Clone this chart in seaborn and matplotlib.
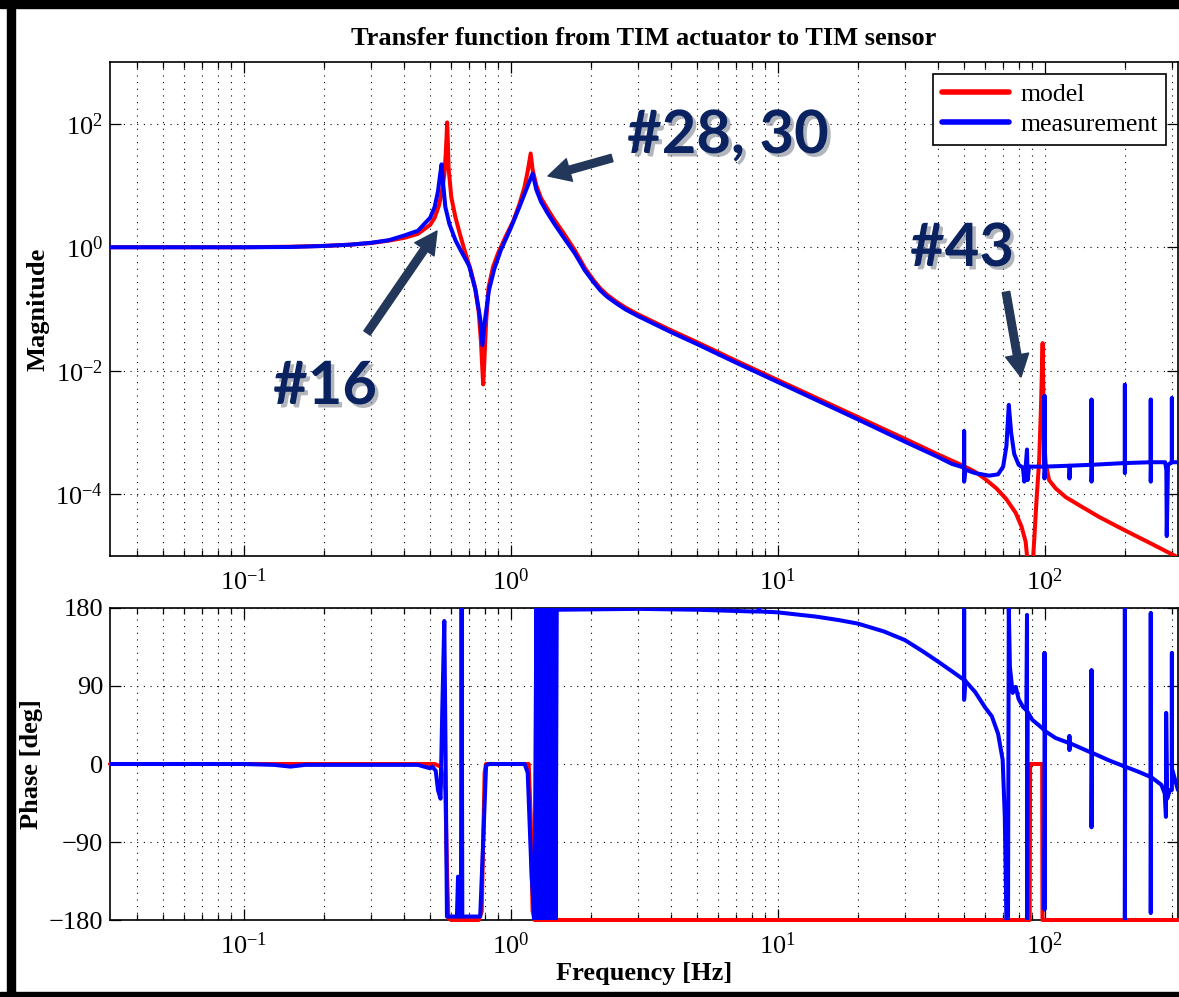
import numpy as np
import pandas as pd
import matplotlib
matplotlib.use("Agg")
import matplotlib.pyplot as plt
import matplotlib.patheffects as pe
from matplotlib.ticker import LogLocator, FixedLocator, NullFormatter, NullLocator, LogFormatterSciNotation
import seaborn as sns

# ---- data (frequency in Hz) ----
model_mag_f = [0.0316, 0.1, 0.15, 0.2, 0.25, 0.3, 0.35, 0.4, 0.45, 0.5, 0.52, 0.54, 0.555, 0.565,
               0.572, 0.576, 0.579, 0.583, 0.586, 0.6, 0.622, 0.65, 0.678, 0.71, 0.736, 0.76, 0.775,
               0.785, 0.79, 0.795, 0.81, 0.828, 0.86, 0.898, 0.96, 1.026, 1.08, 1.127, 1.16,
               1.19, 1.21, 1.25, 1.3, 1.37, 1.45, 1.58, 1.74, 1.9, 2.05, 2.17, 2.3, 2.5, 2.7, 3.0,
               4.0, 5.0, 7.0, 10.0, 20.0, 30.0, 40.0, 50.0, 55.0, 59.6, 66.0, 72.0, 78.0, 82.0,
               85.0, 87.0, 88.5, 91.0, 93.4, 95.5, 97.0, 98.4, 99.2, 100.0, 101.0, 104.0, 110.0,
               120.0, 136.0, 160.0, 200.0, 250.0, 316.0]
model_mag = [1.0, 1.0, 1.02, 1.05, 1.1, 1.17, 1.28, 1.42, 1.65, 2.3, 3.0, 4.8, 8.5, 15.0,
             32.0, 60.0, 105.0, 45.0, 19.5, 6.5, 3.05, 1.5, 0.8, 0.42, 0.226, 0.09, 0.03,
             0.01, 0.006, 0.01, 0.06, 0.226, 0.48, 0.8, 1.5, 2.7, 5.0, 9.3, 17.0,
             33.0, 18.0, 10.0, 6.3, 4.3, 2.9, 1.7, 0.9, 0.46, 0.29, 0.215, 0.17, 0.13, 0.105, 0.082,
             0.045, 0.029, 0.0145, 0.0071, 0.00178, 7.9e-4, 4.4e-4, 2.84e-4, 2.3e-4, 1.8e-4, 1.25e-4, 8.3e-5, 5e-5, 3e-5,
             1.7e-5, 6e-6, 1e-6, 1.2e-5, 8.3e-5, 3.5e-4, 2.5e-3, 0.028, 2.0e-3, 6e-4, 3.2e-4, 1.7e-4, 1.25e-4,
             9e-5, 6.5e-5, 4.3e-5, 2.6e-5, 1.6e-5, 9.5e-6]

meas_mag_f = [0.0316, 0.1, 0.15, 0.2, 0.25, 0.3, 0.35, 0.4, 0.45, 0.5, 0.52, 0.535, 0.545, 0.552,
              0.558, 0.57, 0.59, 0.622, 0.65, 0.7, 0.74, 0.77, 0.785, 0.8, 0.83, 0.87, 0.92, 1.0,
              1.08, 1.15, 1.21, 1.25, 1.3, 1.37, 1.45, 1.58, 1.74, 1.9, 2.05, 2.17, 2.3, 2.5, 2.7,
              3.0, 4.0, 5.0, 7.0, 10.0, 20.0, 30.0, 40.0, 45.0, 50.0, 50.0, 50.0, 50.5, 55.0, 62.0,
              67.0, 70.0, 72.0, 73.5, 75.0, 77.0, 80.0, 83.0, 84.0, 85.0, 86.0, 86.5, 87.5, 95.0,
              100.0, 100.0, 100.0, 100.5, 124.0, 124.0, 124.5, 150.0, 150.0, 150.0, 150.5, 200.0,
              200.0, 200.0, 200.5, 250.0, 250.0, 250.0, 250.5, 283.0, 286.0, 287.0, 290.0, 300.0,
              300.0, 300.0, 316.0]
meas_mag = [1.0, 1.0, 1.01, 1.05, 1.1, 1.18, 1.3, 1.55, 1.85, 3.0, 4.5, 8.0, 15.0, 22.0,
            12.0, 4.5, 2.4, 1.3, 0.9, 0.5, 0.2, 0.07, 0.026, 0.06, 0.2, 0.45, 0.9, 2.0,
            4.5, 9.0, 15.6, 8.5, 5.5, 3.7, 2.5, 1.45, 0.8, 0.42, 0.27, 0.2, 0.158, 0.122, 0.098,
            0.077, 0.042, 0.027, 0.0135, 0.0066, 0.00163, 7.1e-4, 4.0e-4, 3.1e-4, 2.7e-4, 1.05e-3, 1.6e-4, 2.5e-4, 2.2e-4, 2.0e-4,
            2.1e-4, 2.8e-4, 6e-4, 2.8e-3, 1.0e-3, 4.5e-4, 3.0e-4, 2.7e-4, 1.6e-4, 2.8e-4, 5.3e-4, 1.7e-4, 2.8e-4, 2.8e-4,
            2.8e-4, 3.9e-3, 1.8e-4, 2.8e-4, 2.9e-4, 1.8e-4, 2.9e-4, 3.0e-4, 3.4e-3, 1.6e-4, 3.0e-4, 3.2e-4,
            5.9e-3, 2.2e-4, 3.2e-4, 3.3e-4, 3.4e-3, 1.6e-4, 3.3e-4, 3.3e-4, 2.5e-4, 2.1e-5, 3.0e-4, 3.3e-4,
            3.6e-3, 3.3e-4, 3.3e-4]

model_ph_f = [0.0316, 0.52, 0.548, 0.57, 0.578, 0.585, 0.6, 0.76, 0.78, 0.79, 0.8, 0.81,
              1.17, 1.19, 1.21, 1.23, 88.0, 88.3, 98.0, 98.3, 316.0]
model_ph = [0, 0, -3, -30, -120, -178, -180, -180, -170, -90, -10, 0,
            0, -60, -170, -180, -180, 0, 0, -180, -180]

meas_ph_f = [0.0316, 0.1, 0.13, 0.15, 0.17, 0.3, 0.45, 0.5, 0.51, 0.525, 0.535, 0.547, 0.555,
             0.565, 0.571, 0.578, 0.63, 0.636, 0.64, 0.652, 0.656, 0.66, 0.77, 0.79, 0.81, 0.83,
             1.13, 1.16, 1.2, 1.23,
             1.25, 1.265, 1.28, 1.295, 1.31, 1.325, 1.34, 1.355, 1.37, 1.385, 1.40, 1.415,
             1.43, 1.445, 1.46, 1.475, 1.49, 1.5,
             3.0, 5.0, 8.0, 8.5, 8.5, 8.6, 10.0, 14.0, 17.0, 20.0, 25.0, 30.0, 35.0, 40.0, 45.0,
             50.0, 50.0, 50.0, 50.5, 55.0, 60.0, 63.5, 67.0, 69.7, 71.0, 72.0, 73.0, 73.5,
             74.2, 76.0, 78.0, 80.0, 83.0, 85.5, 86.0, 86.0, 86.5, 90.0, 95.0, 100.0, 100.0,
             100.0, 100.5, 110.0, 124.0, 124.0, 124.0, 124.5, 150.0, 150.0, 150.0, 150.5, 175.0,
             200.0, 200.0, 200.0, 200.5, 225.0, 250.0, 250.0, 250.0, 250.5, 274.0, 282.0, 285.0,
             285.5, 288.0, 295.0, 300.0, 300.0, 300.0, 316.0]
meas_ph = [0, 0, -1, -3, -1, -1, -1, -5, -3, -8, -30, -40, 60,
           165, 20, -176, -176, -130, -176, -176, 185, -176, -176, -90, -2, 0,
           0, -10, -130, -180,
           180, -180, 180, -180, 180, -180, 180, -180, 180, -180, 180, -180,
           180, -180, 180, -180, 180, 178,
           179, 178, 176, 176, 180, 176, 175, 170, 166, 162, 153, 143, 130, 118, 107,
           97, 178, 74, 96, 83, 65, 55, 35, 5, -60, -180, -180, 180,
           112, 82, 89, 75, 66, 62, 172, -180, 60, 51, 45, 39, 128,
           -168, 38, 30, 24, 32, 16, 24, 13, 108, -73, 13, 4,
           -3, 180, -180, -3, -9, -15, 174, -172, -15, -24, -34, -61,
           59, -40, -30, -30, 128, -5, -30]

legend_labels = ["model", "measurement"]
mag_ticks = [1e-4, 1e-2, 1e0, 1e2]
phase_ticks = [-180, -90, 0, 90, 180]

sns.set_theme(style="ticks")
plt.rcParams['font.family'] = ['Liberation Serif', 'DejaVu Serif']
plt.rcParams['mathtext.fontset'] = 'custom'
plt.rcParams['mathtext.rm'] = 'Liberation Serif'
plt.rcParams['mathtext.it'] = 'Liberation Serif:italic'
plt.rcParams['mathtext.bf'] = 'Liberation Serif:bold'
for key in ['text.color', 'axes.labelcolor', 'xtick.color', 'ytick.color', 'axes.edgecolor']:
    plt.rcParams[key] = 'black'

W, H = 1179, 997
fig = plt.figure(figsize=(W / 100, H / 100), dpi=100)
ax_mag = fig.add_axes([110 / W, 1 - 556 / H, 1068 / W, 494 / H])
ax_ph = fig.add_axes([110 / W, 1 - 920 / H, 1068 / W, 312 / H])

RED = '#ff0000'
BLUE = '#0000ff'
LW = 2.9

for ax in (ax_mag, ax_ph):
    ax.set_xscale('log')
ax_mag.set_yscale('log')

df_mm = pd.DataFrame({'f': model_mag_f, 'v': model_mag})
df_me = pd.DataFrame({'f': meas_mag_f, 'v': meas_mag})
df_pm = pd.DataFrame({'f': model_ph_f, 'v': model_ph})
df_pe = pd.DataFrame({'f': meas_ph_f, 'v': meas_ph})

sns.lineplot(data=df_mm, x='f', y='v', ax=ax_mag, color=RED, lw=LW, sort=False,
             estimator=None, label=legend_labels[0], zorder=3)
sns.lineplot(data=df_me, x='f', y='v', ax=ax_mag, color=BLUE, lw=LW, sort=False,
             estimator=None, label=legend_labels[1], zorder=4)
sns.lineplot(data=df_pm, x='f', y='v', ax=ax_ph, color=RED, lw=LW, sort=False,
             estimator=None, zorder=3, clip_on=False)
sns.lineplot(data=df_pe, x='f', y='v', ax=ax_ph, color=BLUE, lw=LW, sort=False,
             estimator=None, zorder=4)

grid_kw = dict(color='black', lw=0.8, ls=(0, (1, 5)))
for ax in (ax_mag, ax_ph):
    ax.set_xlim(10 ** -1.5, 10 ** 2.5)
    ax.xaxis.set_major_locator(LogLocator(base=10, numticks=12))
    ax.xaxis.set_minor_locator(LogLocator(base=10, subs=np.arange(2, 10), numticks=12))
    ax.xaxis.set_minor_formatter(NullFormatter())
    ax.tick_params(which='both', direction='in', top=True, right=True, labelsize=19,
                   color='black', width=0.9)
    ax.tick_params(which='major', length=8)
    ax.tick_params(which='minor', length=4.5)
    ax.tick_params(axis='x', pad=9)
    ax.tick_params(axis='y', pad=5)
    ax.grid(True, which='major', **grid_kw)
    ax.grid(True, which='minor', axis='x', **grid_kw)
    ax.set_axisbelow(True)
    ax.set_xlabel('')
    ax.set_ylabel('')
    for s in ax.spines.values():
        s.set_color('black')
        s.set_linewidth(1.2)

ax_mag.set_ylim(1e-5, 1e3)
ax_mag.yaxis.set_major_locator(FixedLocator(mag_ticks))
ax_mag.yaxis.set_major_formatter(LogFormatterSciNotation())
ax_mag.yaxis.set_minor_locator(NullLocator())

ax_ph.set_ylim(-180, 180)
ax_ph.yaxis.set_major_locator(FixedLocator(phase_ticks))

ax_mag.set_title("Transfer function from TIM actuator to TIM sensor", fontsize=19,
                 fontweight='bold', pad=12)
ax_mag.set_ylabel("Magnitude", fontsize=19, fontweight='bold')
ax_mag.yaxis.set_label_coords(-0.057, 0.5)
ax_ph.set_ylabel("Phase [deg]", fontsize=19, fontweight='bold')
ax_ph.yaxis.set_label_coords(-0.063, 0.5)
ax_ph.set_xlabel("Frequency [Hz]", fontsize=19, fontweight='bold')
ax_ph.xaxis.set_label_coords(0.5, -0.135)

leg = ax_mag.legend(loc='upper right', fontsize=18.5, frameon=True, fancybox=False,
                    edgecolor='black', framealpha=1, handlelength=2.6, labelspacing=0.28,
                    borderaxespad=0.45, borderpad=0.35, handletextpad=0.45)
leg.get_frame().set_linewidth(1.2)
for ln in leg.get_lines():
    ln.set_linewidth(4)
if ax_ph.get_legend() is not None:
    ax_ph.get_legend().remove()


def fpos(x, y):
    return (x / W, 1 - y / H)


# callout labels and arrows
NAVY = '#0a2260'
ARROW = '#22375a'
shadow = [pe.SimplePatchShadow(offset=(2.5, -2.5), shadow_rgbFace='#7f8590', alpha=0.6), pe.Normal()]
for txt, (x, y) in [("#28, 30", (728, 136)), ("#16", (325, 387)), ("#43", (962, 249))]:
    fig.text(*fpos(x, y), txt, fontsize=43, fontweight='bold', family=['Lato', 'DejaVu Sans'],
             color=NAVY, ha='center', va='center', path_effects=shadow)

for tail, tip in [((612, 158), (548, 176)), ((367, 333), (437, 231)), ((1006, 292), (1021, 377))]:
    ax_mag.annotate('', xy=fpos(*tip), xytext=fpos(*tail), xycoords='figure fraction',
                    textcoords='figure fraction',
                    arrowprops=dict(arrowstyle='simple,head_length=1.0,head_width=1.05,tail_width=0.34',
                                    color=ARROW, shrinkA=0, shrinkB=0, mutation_scale=16))

# black frame of the screenshot
frame_kw = dict(transform=fig.transFigure, color='black', zorder=10)
fig.add_artist(plt.Rectangle((7 / W, 0), 8 / W, 1, **frame_kw))
fig.add_artist(plt.Rectangle((0, 1 - 8 / H), 1, 8 / H, **frame_kw))
fig.add_artist(plt.Rectangle((0, 0), 1, 5 / H, **frame_kw))

fig.savefig("out.png", dpi=100)
